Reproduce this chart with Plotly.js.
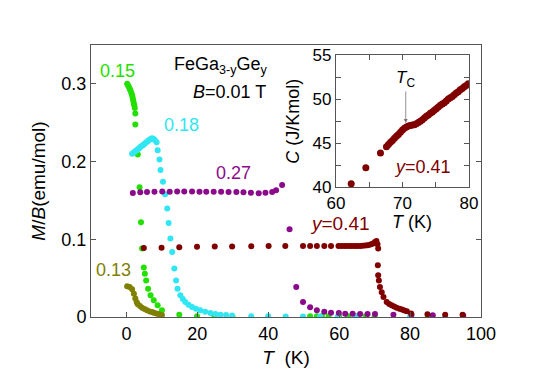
<!DOCTYPE html>
<html>
<head>
<meta charset="utf-8">
<script src="https://cdn.plot.ly/plotly-3.0.1.min.js"></script>
<style>
  html, body { margin: 0; padding: 0; background: #fff; }
  #chart { width: 545px; height: 390px; }
</style>
</head>
<body>
<div id="chart"></div>
<script>
'use strict';

// magnetisation M/B (emu/mol) vs T (K), one series per Ge content y
const t013 = [0.2, 0.9, 1.6, 2.1, 2.5, 2.9, 3.2, 3.8, 4.4, 5.1, 5.8, 6.6, 7.2, 7.7, 8.4, 9.0, 9.6, 10.0];
const m013 = [0.0395, 0.0386, 0.0356, 0.030, 0.0237, 0.019, 0.0163, 0.014, 0.012, 0.0102, 0.0086, 0.0072, 0.0063, 0.0056, 0.0046, 0.0038, 0.003, 0.0025];

const t015 = [0.2, 0.45, 0.7, 0.95, 1.15, 1.4, 1.6, 1.75, 1.9, 2.05, 2.2, 2.35, 2.5, 2.5, 3.2, 3.7, 4.1, 4.4, 4.9, 5.2, 5.55, 6.1, 6.8, 7.7, 8.8, 10.0,
              14.9, 19.9, 24.8, 29.9, 51.8, 53.7, 55.1, 57.0, 60.0, 62.5, 65.0, 67.5, 70.0, 80.3, 85.0];
const m015 = [0.300, 0.298, 0.296, 0.2935, 0.2915, 0.288, 0.2853, 0.282, 0.279, 0.2755, 0.2725, 0.269, 0.2618, 0.2476, 0.209, 0.167, 0.122, 0.088, 0.0636, 0.0558, 0.047, 0.0365, 0.028, 0.0215, 0.015, 0.0086,
              0.003, 0.001, 0.0005, 0.0005, 0.001, 0.001, 0.001, 0.001, 0.001, 0.001, 0.001, 0.001, 0.001, 0.001, 0.001];

const t018 = [1.6, 2.0, 2.4, 2.8, 3.2, 3.6, 4.0, 4.4, 4.8, 5.2, 5.6, 6.0, 6.4, 6.8, 7.2, 7.6, 8.0, 8.5, 8.8, 9.3, 9.6, 10.3, 10.9,
              11.5, 11.9, 12.4, 12.9, 13.5, 14.0, 14.4, 15.2, 15.9, 16.6, 17.5, 18.5, 19.6, 20.8, 22.2, 23.7, 25.1, 26.5, 28.1, 29.8,
              35.2, 40.0, 44.9, 49.8, 54.6, 59.6, 64.8, 80.0, 85.4, 89.9];
const m018 = [0.210, 0.2112, 0.2128, 0.2143, 0.2158, 0.2172, 0.219, 0.2203, 0.2218, 0.2233, 0.2248, 0.2262, 0.2277, 0.2291, 0.2300, 0.2295, 0.2278, 0.225, 0.2145, 0.2026, 0.189, 0.174, 0.158,
              0.1395, 0.121, 0.101, 0.0837, 0.0623, 0.047, 0.0365, 0.028, 0.0232, 0.0193, 0.0158, 0.0129, 0.0105, 0.0086, 0.0066, 0.0051, 0.004, 0.003, 0.0025, 0.002,
              0.001, 0.001, 0.0008, 0.0008, 0.0008, 0.0008, 0.0008, 0.0008, 0.0008, 0.0008];

const t027 = [1.8, 3.9, 5.8, 7.9, 10.1, 12.2, 14.3, 16.3, 18.5, 20.6, 22.5, 24.6, 26.7, 28.8, 31.0, 33.0, 35.1, 37.3, 39.2, 41.1, 42.2, 43.9,
              46.0, 47.9, 49.8, 51.8, 53.7, 55.8, 57.7, 59.9, 61.7, 63.8, 65.9, 68.0, 70.1, 75.3, 80.4, 86.4, 95.0];
const m027 = [0.1596, 0.1605, 0.161, 0.1612, 0.1614, 0.1612, 0.1615, 0.1616, 0.1614, 0.1613, 0.1612, 0.1612, 0.1611, 0.161, 0.1608, 0.1605, 0.1598, 0.1592, 0.1598, 0.1608, 0.163, 0.170,
              0.113, 0.0386, 0.0193, 0.0125, 0.0086, 0.0066, 0.0055, 0.005, 0.0043, 0.0041, 0.004, 0.004, 0.004, 0.003, 0.003, 0.0022, 0.002];

const t041 = [4.9, 9.9, 14.9, 19.9, 24.9, 29.8, 35.2, 40.1, 44.8, 49.8, 51.8, 53.7, 55.8, 57.7, 59.8, 60.6, 61.4, 62.1, 62.9, 63.6, 64.4, 65.1,
              65.9, 66.6, 67.3, 68.0, 68.6, 69.2, 69.7, 70.1, 70.5, 70.8, 71.0, 70.9, 71.0, 71.2, 71.5, 72.0, 72.5, 73.4, 74.1, 74.8, 75.5,
              76.2, 77.0, 77.7, 78.4, 79.1, 80.3, 84.9, 89.9, 94.8];
const m041 = [0.0888, 0.0891, 0.0899, 0.0905, 0.0908, 0.0908, 0.091, 0.0912, 0.0912, 0.0912, 0.0912, 0.0912, 0.0912, 0.0912, 0.0912, 0.0912, 0.0912, 0.0913, 0.0913, 0.0913, 0.0913, 0.0914,
              0.0914, 0.0916, 0.0919, 0.0924, 0.093, 0.0938, 0.0948, 0.0965, 0.0978, 0.0935, 0.088, 0.0665, 0.0537, 0.047, 0.0386, 0.032, 0.0257, 0.0193, 0.0168, 0.015, 0.0135,
              0.012, 0.0105, 0.0095, 0.0083, 0.0073, 0.0044, 0.0035, 0.003, 0.003];

// inset: heat capacity C (J/Kmol) vs T (K) for y = 0.41
const tHeat = [62.3, 64.5, 66.7, 67.6, 67.9, 68.2, 68.5, 68.8, 69.1, 69.4, 69.7, 70.0, 70.3, 70.6, 70.9, 71.2, 71.5, 71.8, 72.1, 72.4, 72.7,
               73.0, 73.3, 73.6, 73.9, 74.2, 74.5, 74.8, 75.1, 75.4, 75.7, 76.0, 76.3, 76.6, 76.9, 77.2, 77.5, 77.8, 78.1, 78.4, 78.7, 79.0, 79.3, 79.6, 79.9];
const cHeat = [40.4, 42.2, 43.9, 44.6, 44.85, 45.1, 45.3, 45.55, 45.8, 46.0, 46.25, 46.5, 46.7, 46.85, 46.95, 47.0, 47.05, 47.1, 47.2, 47.35, 47.5,
               47.65, 47.85, 48.05, 48.2, 48.4, 48.55, 48.75, 48.9, 49.1, 49.3, 49.45, 49.6, 49.8, 50.0, 50.15, 50.3, 50.5, 50.7, 50.85, 51.05, 51.2, 51.4, 51.55, 51.75];

const mainTicks = [0, 20, 40, 60, 80, 100];
const insetXTicks = [60, 65, 70, 75, 80];
const insetXText = ['60', '', '70', '', '80'];
const insetYTicks = [40, 42.5, 45, 47.5, 50, 52.5, 55];
const insetYText = ['40', '', '45', '', '50', '', '55'];

const colors = {
    y013: '#808000',
    y015: '#22e000',
    y018: '#30e6f2',
    y027: '#8b0a8b',
    y041: '#800000',
};

const FONT = 'Arial, "Liberation Sans", sans-serif';
const AXIS_COLOR = '#555';

function series(x, y, color) {
    return {
        x: x,
        y: y,
        type: 'scatter',
        mode: 'markers',
        marker: { color: color, size: 6 },
        hoverinfo: 'none',
        showlegend: false,
    };
}

const data = [
    series(t015, m015, colors.y015),
    series(t018, m018, colors.y018),
    series(t013, m013, colors.y013),
    series(t027, m027, colors.y027),
    series(t041, m041, colors.y041),
    Object.assign(series(tHeat, cHeat, colors.y041), {
        xaxis: 'x2',
        yaxis: 'y2',
        marker: { color: colors.y041, size: 7 },
    }),
];

const axisStyle = {
    showline: true,
    linecolor: AXIS_COLOR,
    linewidth: 1,
    ticks: 'inside',
    ticklen: 5,
    tickcolor: AXIS_COLOR,
    showgrid: false,
    zeroline: false,
    tickfont: { family: FONT, size: 18, color: '#000' },
};

function label(text, x, y, color, extra) {
    return Object.assign(
        {
            text: text,
            x: x,
            y: y,
            xref: 'x',
            yref: 'y',
            showarrow: false,
            font: { family: FONT, size: 18, color: color },
        },
        extra || {}
    );
}

const layout = {
    width: 545,
    height: 390,
    margin: { l: 91, r: 64, t: 45, b: 73 },
    paper_bgcolor: '#fff',
    plot_bgcolor: '#fff',
    showlegend: false,
    xaxis: Object.assign({}, axisStyle, {
        range: [-10, 100],
        tickvals: mainTicks,
        mirror: true,
        title: {
            text: '<i>T</i>&nbsp;&nbsp;(K)',
            font: { family: FONT, size: 19, color: '#000' },
            standoff: 8,
        },
    }),
    yaxis: Object.assign({}, axisStyle, {
        range: [0, 0.35],
        tickvals: [0, 0.1, 0.2, 0.3],
        ticktext: ['0', '0.1', '0.2', '0.3'],
        mirror: 'ticks',
        title: {
            text: '<i>M</i>/<i>B</i>(emu/mol)',
            font: { family: FONT, size: 19, color: '#000' },
            standoff: 10,
        },
    }),
    xaxis2: Object.assign({}, axisStyle, {
        domain: [0.628, 0.969],
        anchor: 'y2',
        range: [60, 80],
        tickvals: insetXTicks,
        ticktext: insetXText,
        mirror: 'ticks',
        tickfont: { family: FONT, size: 17, color: '#000' },
    }),
    yaxis2: Object.assign({}, axisStyle, {
        domain: [0.477, 0.963],
        anchor: 'x2',
        range: [40, 55],
        tickvals: insetYTicks,
        ticktext: insetYText,
        mirror: 'ticks',
        tickfont: { family: FONT, size: 17, color: '#000' },
        title: {
            text: '<i>C</i> (J/Kmol)',
            font: { family: FONT, size: 18, color: '#000' },
            standoff: 8,
        },
    }),
    annotations: [
        label('0.15', -2.6, 0.317, colors.y015),
        label('0.18', 15.5, 0.247, colors.y018),
        label('0.27', 30.1, 0.185, colors.y027),
        label('<i>y</i>=0.41', 60.3, 0.1206, colors.y041, { font: { family: FONT, size: 19, color: colors.y041 } }),
        label('0.13', -3.7, 0.060, colors.y013),
        label('FeGa<sub>3-y</sub>Ge<sub>y</sub>', 40.6, 0.324, '#000', { xanchor: 'right' }),
        label('<i>B</i>=0.01 T', 40.0, 0.2896, '#000', { xanchor: 'right' }),
        label('<i>y</i>=0.41', 73.0, 42.3, colors.y041, { xref: 'x2', yref: 'y2' }),
        // inset x-axis title, placed just under the inset tick labels
        label('<i>T</i>&nbsp;(K)', 71.5, 0.35, '#000', { xref: 'x2', yref: 'paper', yanchor: 'middle', borderpad: 0 }),
        {
            text: '<i>T</i><sub>C</sub>',
            x: 70.5,
            y: 47.3,
            xref: 'x2',
            yref: 'y2',
            ax: 0,
            ay: -44,
            showarrow: true,
            arrowhead: 2,
            arrowsize: 1,
            arrowwidth: 0.8,
            arrowcolor: '#777',
            font: { family: FONT, size: 17, color: '#000' },
        },
    ],
};

Plotly.newPlot('chart', data, layout, { staticPlot: true, displayModeBar: false });
</script>
</body>
</html>
